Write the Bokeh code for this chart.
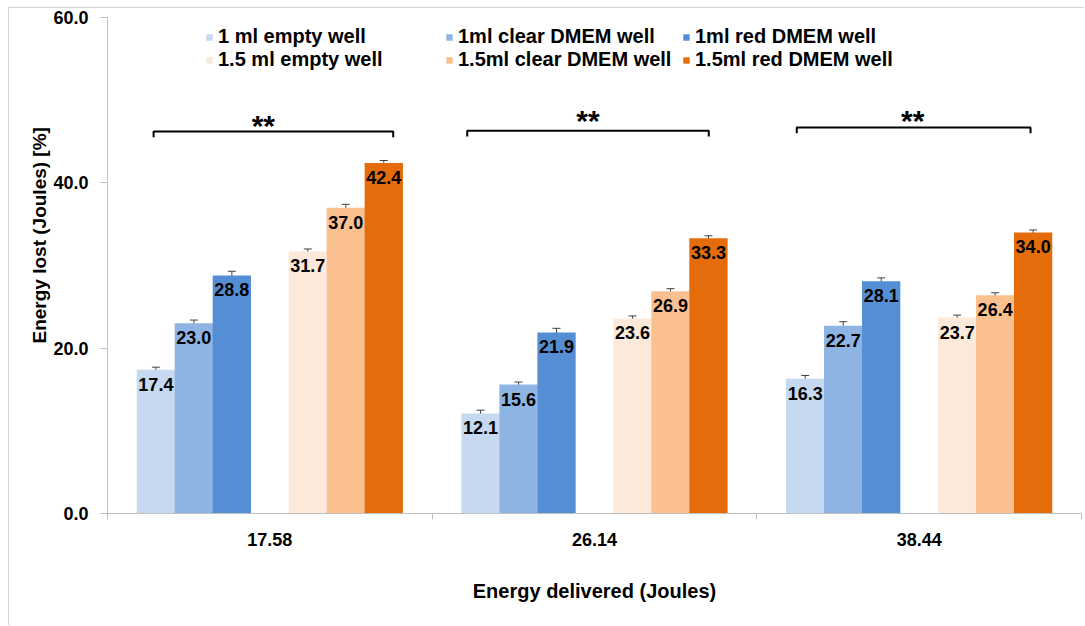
from bokeh.plotting import figure
from bokeh.models import (ColumnDataSource, Range1d, FixedTicker, NumeralTickFormatter,
                          Legend, LegendItem, Whisker, Title)
from bokeh.core.properties import value
from bokeh.embed import file_html
from bokeh.resources import INLINE

# ---------------- data ----------------
categories = ["17.58", "26.14", "38.44"]
series_names = ["1 ml empty well", "1ml clear DMEM well", "1ml red DMEM well",
                "1.5 ml empty well", "1.5ml clear DMEM well", "1.5ml red DMEM well"]
s_1ml_empty = [17.4, 12.1, 16.3]
s_1ml_clear = [23.0, 15.6, 22.7]
s_1ml_red = [28.8, 21.9, 28.1]
s_15ml_empty = [31.7, 23.6, 23.7]
s_15ml_clear = [37.0, 26.9, 26.4]
s_15ml_red = [42.4, 33.3, 34.0]
e_1ml_empty = [0.3, 0.4, 0.4]
e_1ml_clear = [0.4, 0.3, 0.5]
e_1ml_red = [0.5, 0.5, 0.4]
e_15ml_empty = [0.3, 0.3, 0.3]
e_15ml_clear = [0.4, 0.3, 0.3]
e_15ml_red = [0.3, 0.3, 0.3]
y_ticks = [0, 20, 40, 60]
sig_text = ["**", "**", "**"]
bracket_left = [-0.358, -0.392, -0.377]
bracket_right = [0.38, 0.352, 0.343]
bracket_y = [46.2, 46.3, 46.7]
star_y = [46.9, 47.5, 47.6]

series = [s_1ml_empty, s_1ml_clear, s_1ml_red, s_15ml_empty, s_15ml_clear, s_15ml_red]
errors = [e_1ml_empty, e_1ml_clear, e_1ml_red, e_15ml_empty, e_15ml_clear, e_15ml_red]
colors = ["#C6D9F1", "#8EB4E3", "#558ED5", "#FDE9D9", "#FAC090", "#E46C0A"]
offsets = [-0.351, -0.234, -0.117, 0.117, 0.234, 0.351]
BAR_W = 0.118
FONT = "Liberation Sans"
AXIS_GRAY = "#BFBFBF"
FRAME_GRAY = "#D4D4D4"

p = figure(width=1076, height=618, output_backend="svg", toolbar_location=None,
           x_range=Range1d(-0.5, 2.5), y_range=Range1d(0, 60),
           min_border_left=98, min_border_top=9, min_border_bottom=113, min_border_right=4)
p.styles = {"margin-left": "8px", "margin-top": "7px",
            "border-left": f"1px solid {FRAME_GRAY}", "border-top": f"1px solid {FRAME_GRAY}"}
p.outline_line_color = None
p.xgrid.visible = False
p.ygrid.visible = False
p.background_fill_color = "white"

renderers = []
for vals, errs, col, off in zip(series, errors, colors, offsets):
    xs = [i + off for i in range(len(categories))]
    src = ColumnDataSource(dict(x=xs, top=vals, lower=[v - e for v, e in zip(vals, errs)],
                                upper=[v + e for v, e in zip(vals, errs)],
                                lab=[f"{v:.1f}" for v in vals]))
    r = p.vbar(x="x", top="top", width=BAR_W, bottom=0, source=src,
               fill_color=col, line_color=None)
    renderers.append(r)
    w = Whisker(base="x", lower="lower", upper="upper", source=src,
                line_color="#404040", line_width=1)
    w.upper_head.size = 8
    w.lower_head.size = 8
    w.upper_head.line_color = "#404040"
    w.lower_head.line_color = "#404040"
    p.add_layout(w)
    p.text(x="x", y="top", text="lab", source=src, text_align="center",
           text_baseline="top", y_offset=8, text_font=value(FONT),
           text_font_style="bold", text_font_size="18px", text_color="black")

# significance brackets
tip = 0.7
bx, by = [], []
for i, (l, r_, y) in enumerate(zip(bracket_left, bracket_right, bracket_y)):
    bx.append([i + l, i + l, i + r_, i + r_])
    by.append([y - tip, y, y, y - tip])
p.multi_line(xs=bx, ys=by, line_color="black", line_width=2)
p.text(x=[i - 0.02 for i in range(len(categories))], y=star_y, text=sig_text,
       text_align="center", text_baseline="alphabetic", text_font=value(FONT),
       text_font_style="bold", text_font_size="30px", text_color="black")

# axes
xa = p.xaxis[0]
xa.ticker = FixedTicker(ticks=list(range(len(categories))),
                        minor_ticks=[-0.5 + i for i in range(len(categories) + 1)])
xa.major_label_overrides = {i: c for i, c in enumerate(categories)}
xa.major_tick_out = 0
xa.major_tick_in = 0
xa.minor_tick_out = 6
xa.minor_tick_in = 0
xa.minor_tick_line_color = AXIS_GRAY
xa.axis_line_color = AXIS_GRAY
xa.major_label_standoff = 13
xa.major_label_text_font = FONT
xa.major_label_text_font_style = "bold"
xa.major_label_text_font_size = "18px"
xa.major_label_text_color = "black"
xa.axis_label = "Energy delivered (Joules)"
xa.axis_label_text_font = FONT
xa.axis_label_text_font_style = "bold"
xa.axis_label_text_font_size = "20px"
xa.axis_label_text_color = "black"
xa.axis_label_standoff = 31

ya = p.yaxis[0]
ya.ticker = FixedTicker(ticks=y_ticks, minor_ticks=[])
ya.formatter = NumeralTickFormatter(format="0.0")
ya.major_tick_out = 7
ya.major_tick_in = 0
ya.major_tick_line_color = AXIS_GRAY
ya.axis_line_color = AXIS_GRAY
ya.major_label_standoff = 12
ya.major_label_text_font = FONT
ya.major_label_text_font_style = "bold"
ya.major_label_text_font_size = "18px"
ya.major_label_text_color = "black"

ytitle = Title(text="Energy lost  (Joules) [%]", align="left", offset=170,
               text_font=FONT, text_font_style="bold", text_font_size="19px",
               text_color="black", standoff=2)
p.add_layout(ytitle, "left")

# legend: three columns of two rows
col_x = [98, 338, 575]
for c in range(3):
    items = [LegendItem(label=series_names[c], renderers=[renderers[c]]),
             LegendItem(label=series_names[c + 3], renderers=[renderers[c + 3]])]
    lg = Legend(items=items, location=(col_x[c], 442), orientation="vertical",
                glyph_width=8, glyph_height=8, label_standoff=5, spacing=0,
                padding=0, margin=0, border_line_color=None, background_fill_alpha=0,
                label_text_font=FONT, label_text_font_style="bold",
                label_text_font_size="20px", label_text_color="black", label_height=20)
    p.add_layout(lg)

open("out.html", "w").write(file_html(p, INLINE))
